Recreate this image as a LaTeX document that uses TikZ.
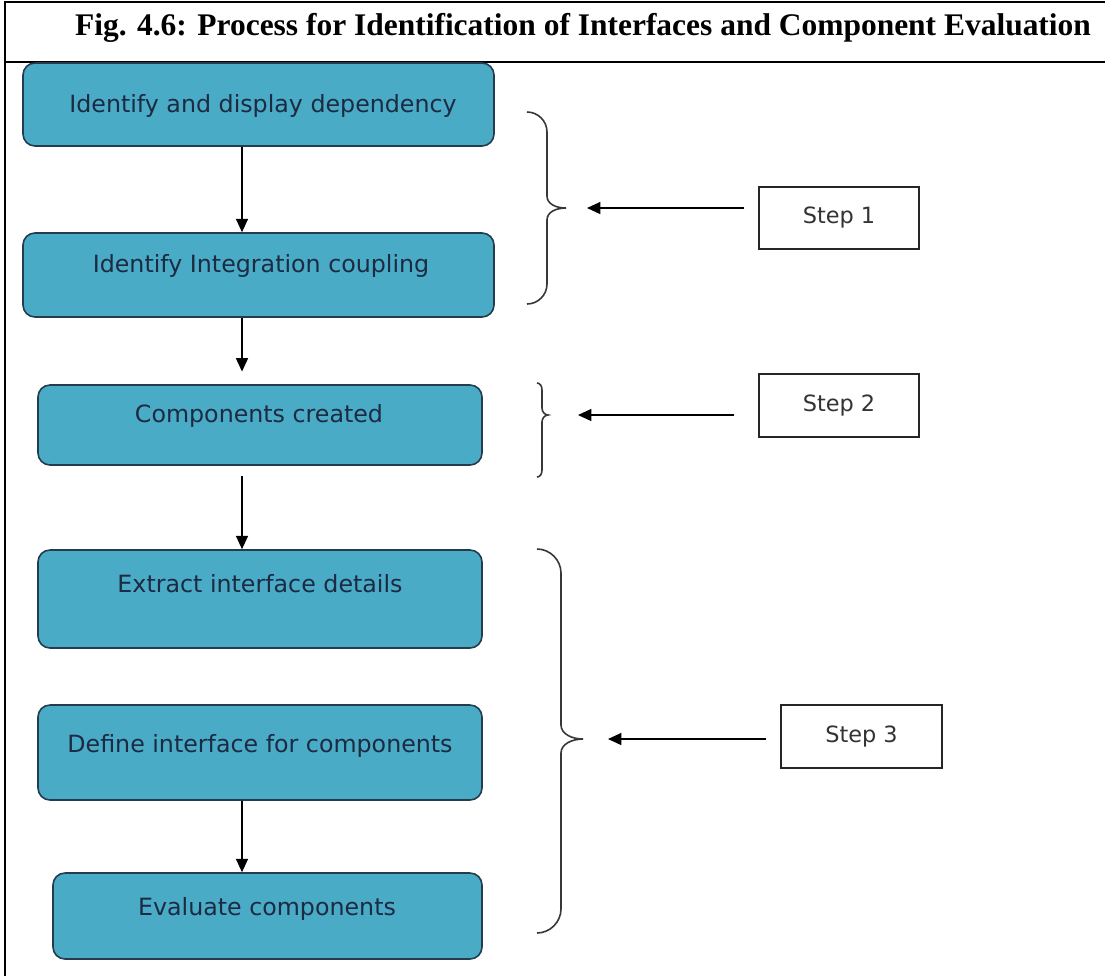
\documentclass[tikz,border=0pt]{standalone}
\usepackage{fontspec}
\setmainfont{Liberation Serif}
\newfontfamily\boxfont{DejaVu Sans}
\usetikzlibrary{arrows.meta}
\definecolor{boxfill}{RGB}{74,171,198}
\definecolor{boxline}{RGB}{36,60,78}
\definecolor{boxtext}{RGB}{28,42,66}
\definecolor{bracecol}{RGB}{55,55,55}

\begin{document}
\begin{tikzpicture}[x=0.75pt,y=-0.75pt,
  blockbox/.style={draw=boxline, line width=1.2pt, fill=boxfill, rounded corners=9pt, inner sep=0pt},
  blocktext/.style={font=\boxfont\fontsize{17.8}{21}\selectfont, text=boxtext, anchor=base, inner sep=0pt},
  stepbox/.style={draw=black!85, line width=1.1pt, fill=white, inner sep=0pt,
    font=\boxfont\fontsize{16.8}{20}\selectfont, text=black!80},
  flow/.style={line width=1pt, -{Triangle[length=10pt,width=9pt]}},
  brace/.style={draw=bracecol, line width=1.2pt},
  frame/.style={line width=2pt}]
\useasboundingbox (0,0) rectangle (1105,976);

% table frame and caption
\draw[frame] (5,976) -- (5,2) -- (1105,2);
\draw[frame] (5,62) -- (1105,62);
\node[font=\bfseries\fontsize{23.6}{27}\selectfont, inner sep=0pt] (title) at (583,28)
  {Fig. 4.6: Process for Identification of Interfaces and Component Evaluation};

% process blocks
\node[blockbox, minimum width=353.25pt, minimum height=62.25pt] (b1) at (258.5,104.5) {};
\node[blockbox, minimum width=353.25pt, minimum height=63pt]    (b2) at (258.5,275) {};
\node[blockbox, minimum width=333pt,    minimum height=60pt]    (b3) at (260,425) {};
\node[blockbox, minimum width=333pt,    minimum height=73.5pt]  (b4) at (260,599) {};
\node[blockbox, minimum width=333pt,    minimum height=71.25pt] (b5) at (260,752.5) {};
\node[blockbox, minimum width=321.75pt, minimum height=64.5pt]  (b6) at (267.5,916) {};

\node[blocktext] (t1) at (263,112) {Identify and display dependency};
\node[blocktext] (t2) at (261,272) {Identify Integration coupling};
\node[blocktext] (t3) at (259,422) {Components created};
\node[blocktext] (t4) at (260,592) {Extract interface details};
\node[blocktext] (t5) at (260,752) {Define interface for components};
\node[blocktext] (t6) at (267,915) {Evaluate components};

% flow arrows between blocks
\coordinate (spine) at (242,0);
\draw[flow] (b1.south -| spine) -- (b2.north -| spine);
\draw[flow, shorten >=9.5pt] (b2.south -| spine) -- (b3.north -| spine);
\draw[flow, shorten <=7.5pt] (b3.south -| spine) -- (b4.north -| spine);
\draw[flow] (b5.south -| spine) -- (b6.north -| spine);

% braces grouping the blocks
\draw[brace] (527,112) .. controls (538,112) and (547,121) .. (547,132) -- (547,196)
  .. controls (547,204) and (556,208) .. (566,208) coordinate (br1)
  .. controls (556,208) and (547,212) .. (547,220) -- (547,284)
  .. controls (547,295) and (538,304) .. (527,304);
\draw[brace] (537,383) .. controls (540,383) and (542,386) .. (542,390) -- (542,408)
  .. controls (542,412) and (545,415) .. (548,415) coordinate (br2)
  .. controls (545,415) and (542,418) .. (542,422) -- (542,470)
  .. controls (542,474) and (540,477) .. (537,477);
\draw[brace] (537,549) .. controls (550,549) and (561,560) .. (561,573) -- (561,725)
  .. controls (561,734) and (572,739) .. (583,739) coordinate (br3)
  .. controls (572,739) and (561,744) .. (561,753) -- (561,909)
  .. controls (561,922) and (550,933) .. (537,933);

% step labels
\node[stepbox, minimum width=120pt, minimum height=46.5pt]  (s1) at (839,218) {Step 1};
\node[stepbox, minimum width=120pt, minimum height=47.25pt] (s2) at (839,405.5) {Step 2};
\node[stepbox, minimum width=120.75pt, minimum height=47.25pt] (s3) at (861.5,736.5) {Step 3};

\draw[flow, shorten <=10.5pt, shorten >=15.75pt] (br1 -| s1.west) -- (br1);
\draw[flow, shorten <=18pt, shorten >=22.5pt] (br2 -| s2.west) -- (br2);
\draw[flow, shorten <=10.5pt, shorten >=18.75pt] (br3 -| s3.west) -- (br3);
\end{tikzpicture}
\end{document}
